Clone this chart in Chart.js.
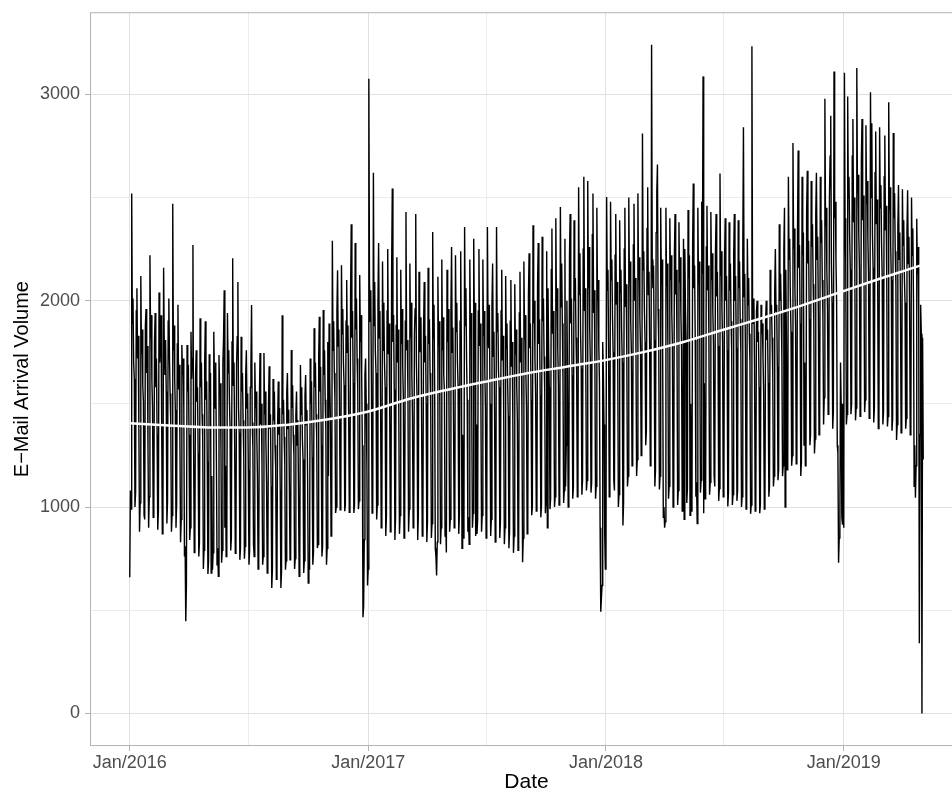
<!DOCTYPE html>
<html>
<head>
<meta charset="utf-8">
<script src="https://cdn.jsdelivr.net/npm/chart.js@4.4.1/dist/chart.umd.min.js"></script>
<style>
  html, body { margin: 0; padding: 0; background: #fff; overflow: hidden; }
  #wrap { width: 952px; height: 793px; overflow: hidden; }
</style>
</head>
<body>
<div id="wrap"><canvas id="mailChart" width="975" height="793"></canvas></div>
<script>
// daily e-mail arrivals, first value = Fri 01 Jan 2016 (one row per week Mon..Sun)
const volume = [
  660, 1080, 990,
  2520, 1890, 2010, 1700, 1620, 1000, 1070,   // Jan 4 2016
  1950, 2060, 1720, 1830, 1380, 880, 1020,
  2120, 1740, 1860, 1590, 1510, 960, 940,
  1880, 1960, 1650, 1780, 1290, 900, 1050,
  2220, 1820, 1930, 1610, 1480, 950, 1000,    // Feb
  1800, 1940, 1580, 1720, 1350, 890, 980,
  2040, 1700, 1850, 1930, 1420, 870, 1010,
  2160, 1780, 1640, 1810, 1560, 920, 1030,
  1900, 2010, 1720, 1550, 1400, 880, 960,
  2470, 1760, 1880, 1620, 1470, 900, 1020,    // Mar
  1790, 1980, 1570, 1690, 1330, 830, 940,
  1785, 1640, 1720, 1480, 760, 810, 447,
  620, 1785, 1560, 1690, 1350, 840, 900,
  1850, 1620, 1720, 2270, 1300, 780, 860,     // Apr
  1632, 1760, 1510, 1580, 1260, 760, 830,
  1915, 1580, 1700, 1450, 1340, 700, 790,
  1690, 1900, 1520, 1610, 1220, 676, 740,
  1740, 1560, 1650, 680, 1150, 696, 780,      // May
  1850, 1620, 1480, 1700, 1240, 720, 800,
  664, 1737, 1540, 1600, 1290, 730, 790,
  1700, 1820, 2050, 900, 1200, 760, 841,
  1940, 1650, 1760, 1520, 1380, 790, 850,
  1800, 2206, 1590, 1700, 1330, 776, 820,     // Jun
  1690, 1825, 2090, 1480, 1360, 744, 800,
  1825, 1560, 1650, 1420, 1250, 750, 810,
  1640, 1760, 1480, 1550, 1180, 720, 790,
  1580, 1690, 1979, 1410, 1290, 817, 760,     // Jul
  1700, 1480, 1560, 1350, 1150, 700, 740,
  1520, 1747, 1400, 1500, 1200, 720, 760,
  1747, 1450, 1560, 1320, 1120, 680, 730,
  1500, 1682, 1380, 1450, 1100, 608, 700,     // Aug
  1620, 1420, 1560, 1300, 1190, 650, 720,
  1400, 1608, 1350, 1480, 1080, 608, 690,
  1930, 1450, 1520, 1340, 1210, 696, 740,
  1550, 1650, 1380, 1471, 1120, 744, 760,
  1761, 1480, 1590, 1350, 1250, 700, 750,     // Sep
  1447, 1560, 1300, 1420, 1100, 664, 720,
  1688, 1450, 1580, 1330, 1230, 680, 740,
  1540, 1640, 1400, 1470, 1150, 632, 700,
  700, 1720, 1500, 1610, 1240, 720, 780,      // Oct
  1867, 1580, 1700, 1450, 1340, 801, 820,
  1720, 1922, 1560, 1680, 1300, 760, 810,
  1955, 1640, 1760, 1520, 1380, 720, 800,
  1800, 1150, 1890, 1620, 1420, 860, 900,     // Nov
  2290, 1760, 1900, 1650, 1520, 971, 1000,
  1950, 2148, 1780, 1860, 1480, 987, 1020,
  2172, 1840, 1960, 1700, 1590, 980, 1010,
  1900, 2100, 1750, 1880, 1470, 975, 1000,
  2050, 2370, 1820, 1950, 1600, 971, 1010,    // Dec
  2280, 1860, 2010, 1720, 1570, 990, 1030,
  2124, 1800, 1930, 1650, 1300, 466, 520,
  842, 1640, 1720, 1500, 1200, 620, 700,
  3075, 2100, 1900, 2050, 1600, 971, 1000,    // Jan 2 2017
  2620, 1880, 2090, 1760, 1650, 940, 1010,
  2000, 2280, 1820, 1950, 1520, 900, 980,
  2190, 1760, 1990, 1700, 1580, 860, 960,
  1950, 2250, 1740, 1890, 1490, 880, 970,     // Feb
  2160, 2544, 1800, 1930, 1570, 840, 950,
  1880, 2210, 1700, 1860, 1450, 870, 960,
  2150, 1790, 1960, 1680, 1530, 850, 940,
  1900, 2430, 1760, 1810, 1560, 880, 990,     // Mar
  2180, 1820, 1990, 1650, 1440, 900, 980,
  1840, 1960, 2420, 1700, 1530, 840, 960,
  2140, 1750, 1850, 1920, 1420, 860, 950,
  1860, 2090, 1700, 1830, 1500, 830, 930,
  2160, 1790, 1910, 1650, 1480, 850, 920,     // Apr
  2333, 1820, 1980, 1600, 800, 760, 668,
  830, 2116, 1780, 1900, 1490, 820, 900,
  2200, 1760, 1920, 1640, 1560, 860, 930,
  780, 2150, 1800, 1960, 1500, 880, 940,      // May
  1960, 2260, 1750, 1870, 1410, 900, 950,
  2220, 1850, 1990, 1700, 1590, 870, 960,
  1900, 2240, 1780, 800, 1350, 850, 920,
  2357, 1880, 2060, 1720, 1520, 880, 950,
  820, 2200, 1820, 1940, 1450, 900, 970,      // Jun
  2300, 1890, 1990, 860, 1400, 870, 940,
  1950, 2250, 1780, 1890, 1510, 880, 960,
  2200, 1830, 1950, 1660, 1480, 850, 930,
  2357, 1870, 1770, 1980, 1500, 860, 940,     // Jul
  1980, 2180, 1730, 1850, 1470, 830, 910,
  2357, 1850, 1940, 1660, 1580, 850, 930,
  1950, 2150, 1710, 1830, 1460, 820, 900,
  2120, 1770, 1890, 1610, 1440, 800, 880,     // Aug
  1900, 2100, 1680, 1800, 1430, 778, 860,
  2080, 1740, 1860, 1590, 1420, 790, 870,
  1940, 2140, 1700, 1820, 1440, 732, 850,
  2190, 1810, 1930, 1650, 1480, 870, 930,
  2030, 2230, 1770, 1890, 1520, 960, 1000,    // Sep
  2366, 1890, 2000, 1720, 1550, 980, 1020,
  2080, 2280, 1790, 1910, 1540, 950, 1010,
  2310, 1900, 2010, 1730, 1560, 970, 1030,
  2240, 900, 2060, 1760, 1580, 990, 1040,     // Oct
  2150, 2350, 1840, 1950, 1590, 1000, 1050,
  2400, 1950, 2060, 1770, 1600, 1010, 1060,
  2454, 1970, 2180, 1890, 1620, 1020, 1080,
  2300, 1100, 1300, 2000, 1620, 1000, 1060,
  2220, 2420, 1890, 2010, 1640, 1040, 1100,   // Nov
  2390, 2000, 2110, 1820, 1650, 1050, 1120,
  2550, 2030, 2230, 1840, 1670, 1060, 1130,
  2250, 2600, 1950, 2060, 1690, 1080, 1130,
  2580, 2060, 2260, 1870, 1700, 1070, 1120,   // Dec
  2320, 2520, 1940, 2050, 1680, 1040, 1100,
  2450, 2000, 2100, 1780, 1600, 900, 493,
  560, 620, 1800, 1650, 1400, 880, 700,
  750, 2503, 2050, 2150, 1780, 1050, 1100,    // Jan 1 2018
  2480, 2100, 2200, 1920, 1750, 1130, 1080,
  2220, 2420, 1980, 2090, 1720, 1000, 1060,
  2390, 2040, 2150, 1860, 1700, 911, 1020,
  2250, 2450, 1970, 2080, 1730, 1100, 1150,
  2500, 2090, 2190, 1900, 1750, 1200, 1250,   // Feb
  2270, 2470, 2000, 2110, 1760, 1150, 1230,
  2520, 2100, 2210, 1920, 1770, 1250, 1300,
  2810, 2150, 2240, 1950, 1800, 1300, 1370,
  2350, 2550, 2030, 2140, 1790, 1200, 1280,   // Mar
  3240, 2200, 2060, 2170, 1810, 1100, 1180,
  2330, 2530, 2660, 1960, 1800, 1085, 1150,
  2450, 2080, 2200, 1750, 950, 1000, 900,
  930, 2450, 2070, 2180, 1800, 1040, 1100,    // Apr
  2400, 2100, 2220, 1940, 1780, 1000, 1060,
  2220, 2420, 2030, 2150, 1790, 1010, 1080,
  2380, 2090, 2210, 1930, 1770, 980, 1050,
  2300, 940, 2250, 1960, 1800, 1020, 1090,    // May
  2440, 2110, 2220, 960, 1500, 980, 1040,
  2270, 2568, 2060, 2170, 1810, 1050, 1120,
  920, 2450, 2080, 2190, 1820, 1070, 1130,
  2480, 2130, 3087, 970, 1600, 1040, 1100,
  2260, 2460, 2050, 2170, 1800, 1060, 1120,   // Jun
  2430, 2100, 2230, 1950, 1790, 1147, 1100,
  2220, 2420, 2020, 2140, 1780, 1030, 1090,
  2616, 2120, 2240, 1960, 1800, 1050, 1110,
  2200, 2400, 2000, 2120, 1760, 1003, 1070,   // Jul
  2380, 2050, 2180, 1900, 1750, 1010, 1060,
  2220, 2420, 2000, 2120, 1770, 1030, 1080,
  2390, 2060, 2190, 1910, 1750, 1000, 1050,
  2250, 2841, 2020, 2130, 1770, 990, 1040,
  2300, 1980, 2110, 1840, 1700, 967, 1010,    // Aug
  3233, 2000, 1890, 2010, 1680, 980, 1030,
  1950, 2000, 1800, 1850, 1580, 970, 1010,
  1980, 1840, 1890, 1730, 1560, 990, 1030,
  1900, 2000, 1810, 1860, 1600, 1050, 1100,   // Sep
  2150, 1950, 1980, 1820, 1640, 1100, 1150,
  2050, 2250, 1950, 1980, 1680, 1130, 1180,
  2370, 2000, 2130, 1950, 1730, 1150, 1200,
  2250, 2450, 1000, 2150, 1800, 1180, 1230,   // Oct
  2600, 2200, 2300, 2020, 1850, 1200, 1250,
  2764, 2250, 2350, 2060, 1880, 1210, 1230,
  2350, 2728, 2160, 2270, 1890, 1150, 1220,
  2600, 2220, 2330, 1300, 1700, 1200, 1260,
  2430, 2630, 2180, 2290, 1910, 1300, 1350,   // Nov
  2580, 2260, 2370, 2080, 1900, 1260, 1330,
  2420, 2620, 2200, 2310, 1930, 1350, 1420,
  2600, 2280, 2390, 2100, 1920, 1400, 1530,
  2978, 2360, 2450, 2150, 1970, 1450, 1500,   // Dec
  2500, 2700, 2896, 2180, 1990, 1380, 1460,
  3111, 2400, 2480, 2200, 2000, 1300, 1260,
  730, 850, 900, 1700, 1500, 950, 914,
  1500, 900, 3105, 2400, 2200, 1400, 1450,    // Jan 2019
  2990, 2500, 2600, 2320, 2150, 1450, 1500,
  2700, 2880, 2380, 2500, 2140, 1420, 1480,
  3127, 2520, 2610, 2330, 2160, 1440, 1510,
  2680, 2880, 2390, 2510, 2150, 1460, 1520,
  2850, 2470, 2580, 2300, 2130, 1430, 1490,   // Feb
  3010, 2500, 2860, 2320, 2160, 1410, 1480,
  2620, 2820, 2370, 2490, 2120, 1380, 1450,
  2840, 2450, 2560, 2280, 2110, 1400, 1460,
  2600, 2800, 2340, 2460, 2090, 1390, 1440,   // Mar
  2962, 2440, 2550, 2270, 2100, 1370, 1430,
  2812, 2400, 2520, 2240, 2080, 1325, 1400,
  2360, 2560, 2200, 2330, 2000, 1360, 1420,
  2540, 2270, 2390, 2120, 1990, 1380, 1430,   // Apr
  2335, 2535, 2180, 2310, 1980, 1350, 1410,
  2500, 2220, 2350, 2000, 1100, 1300, 1045,
  1200, 2397, 2130, 2260, 1940, 340, 1350,
  1980, 1840, 0, 1820, 1230
];

// smooth trend (white line), day offset from 01 Jan 2016
const trendDay   = [0, 60, 120, 180, 240, 300, 365, 430, 490, 550, 610, 670, 730, 790, 850, 910, 970, 1030, 1090, 1150, 1218];
const trendValue = [1406, 1395, 1386, 1385, 1398, 1423, 1462, 1525, 1570, 1610, 1648, 1680, 1712, 1752, 1800, 1858, 1915, 1975, 2040, 2105, 2175];

// axis breaks (x in days from 01 Jan 2016)
const xTickDays   = [0, 182, 366, 547, 731, 912, 1096];
const xTickLabels = ['Jan/2016', '', 'Jan/2017', '', 'Jan/2018', '', 'Jan/2019'];
const yTicks      = [0, 500, 1000, 1500, 2000, 2500, 3000];
const yMajor      = [0, 1000, 2000, 3000];

const panelBox = {
  id: 'panelBox',
  afterDatasetsDraw(chart) {
    const a = chart.chartArea;
    const ctx = chart.ctx;
    ctx.save();
    ctx.strokeStyle = '#b3b3b3';
    ctx.lineWidth = 1;
    ctx.strokeRect(a.left + 0.5, a.top + 0.5, a.right - a.left - 1, a.bottom - a.top - 1);
    ctx.restore();
  }
};

const canvas = document.getElementById('mailChart');

new Chart(canvas.getContext('2d'), {
  type: 'line',
  data: {
    datasets: [
      {
        label: 'trend',
        data: trendDay.map((d, i) => ({ x: d, y: trendValue[i] })),
        borderColor: '#ffffff',
        borderWidth: 2.5,
        pointRadius: 0,
        cubicInterpolationMode: 'monotone'
      },
      {
        label: 'volume',
        data: volume.map((v, i) => ({ x: i, y: v })),
        borderColor: '#000000',
        borderWidth: 1.4,
        pointRadius: 0,
        tension: 0
      }
    ]
  },
  options: {
    responsive: false,
    devicePixelRatio: 1,
    animation: false,
    layout: { padding: { top: 12, right: 12, left: 0, bottom: 0 } },
    plugins: {
      legend: { display: false },
      tooltip: { enabled: false }
    },
    scales: {
      x: {
        type: 'linear',
        min: -61,
        max: 1279,
        afterBuildTicks: s => { s.ticks = xTickDays.map(v => ({ value: v })); },
        afterFit: s => { s.height = 47; },
        border: { display: false },
        grid: {
          color: c => (xTickLabels[xTickDays.indexOf(c.tick.value)] ? '#e0e0e0' : '#ececec'),
          tickColor: c => (xTickLabels[xTickDays.indexOf(c.tick.value)] ? '#b3b3b3' : 'rgba(0,0,0,0)'),
          tickLength: 5
        },
        ticks: {
          autoSkip: false,
          maxRotation: 0,
          padding: 1,
          color: '#4d4d4d',
          font: { family: 'Liberation Sans, Arial, sans-serif', size: 18 },
          callback: v => xTickLabels[xTickDays.indexOf(v)] || ''
        },
        title: {
          display: true,
          text: 'Date',
          color: '#000',
          font: { family: 'Liberation Sans, Arial, sans-serif', size: 21, lineHeight: 1 },
          padding: { top: 0, bottom: 0 }
        }
      },
      y: {
        min: -158,
        max: 3398,
        afterBuildTicks: s => { s.ticks = yTicks.map(v => ({ value: v })); },
        afterFit: s => { s.width = 90; },
        border: { display: false },
        grid: {
          color: c => (yMajor.includes(c.tick.value) ? '#e0e0e0' : '#ececec'),
          tickColor: c => (yMajor.includes(c.tick.value) ? '#b3b3b3' : 'rgba(0,0,0,0)'),
          tickLength: 5
        },
        ticks: {
          autoSkip: false,
          padding: 5,
          color: '#4d4d4d',
          font: { family: 'Liberation Sans, Arial, sans-serif', size: 18, lineHeight: 0.8 },
          callback: v => (yMajor.includes(v) ? String(v) : '')
        },
        title: {
          display: true,
          text: 'E\u2212Mail Arrival Volume',
          color: '#000',
          font: { family: 'Liberation Sans, Arial, sans-serif', size: 20, lineHeight: 1 },
          padding: { top: 12, bottom: 0 }
        }
      }
    }
  },
  plugins: [panelBox]
});
</script>
</body>
</html>
